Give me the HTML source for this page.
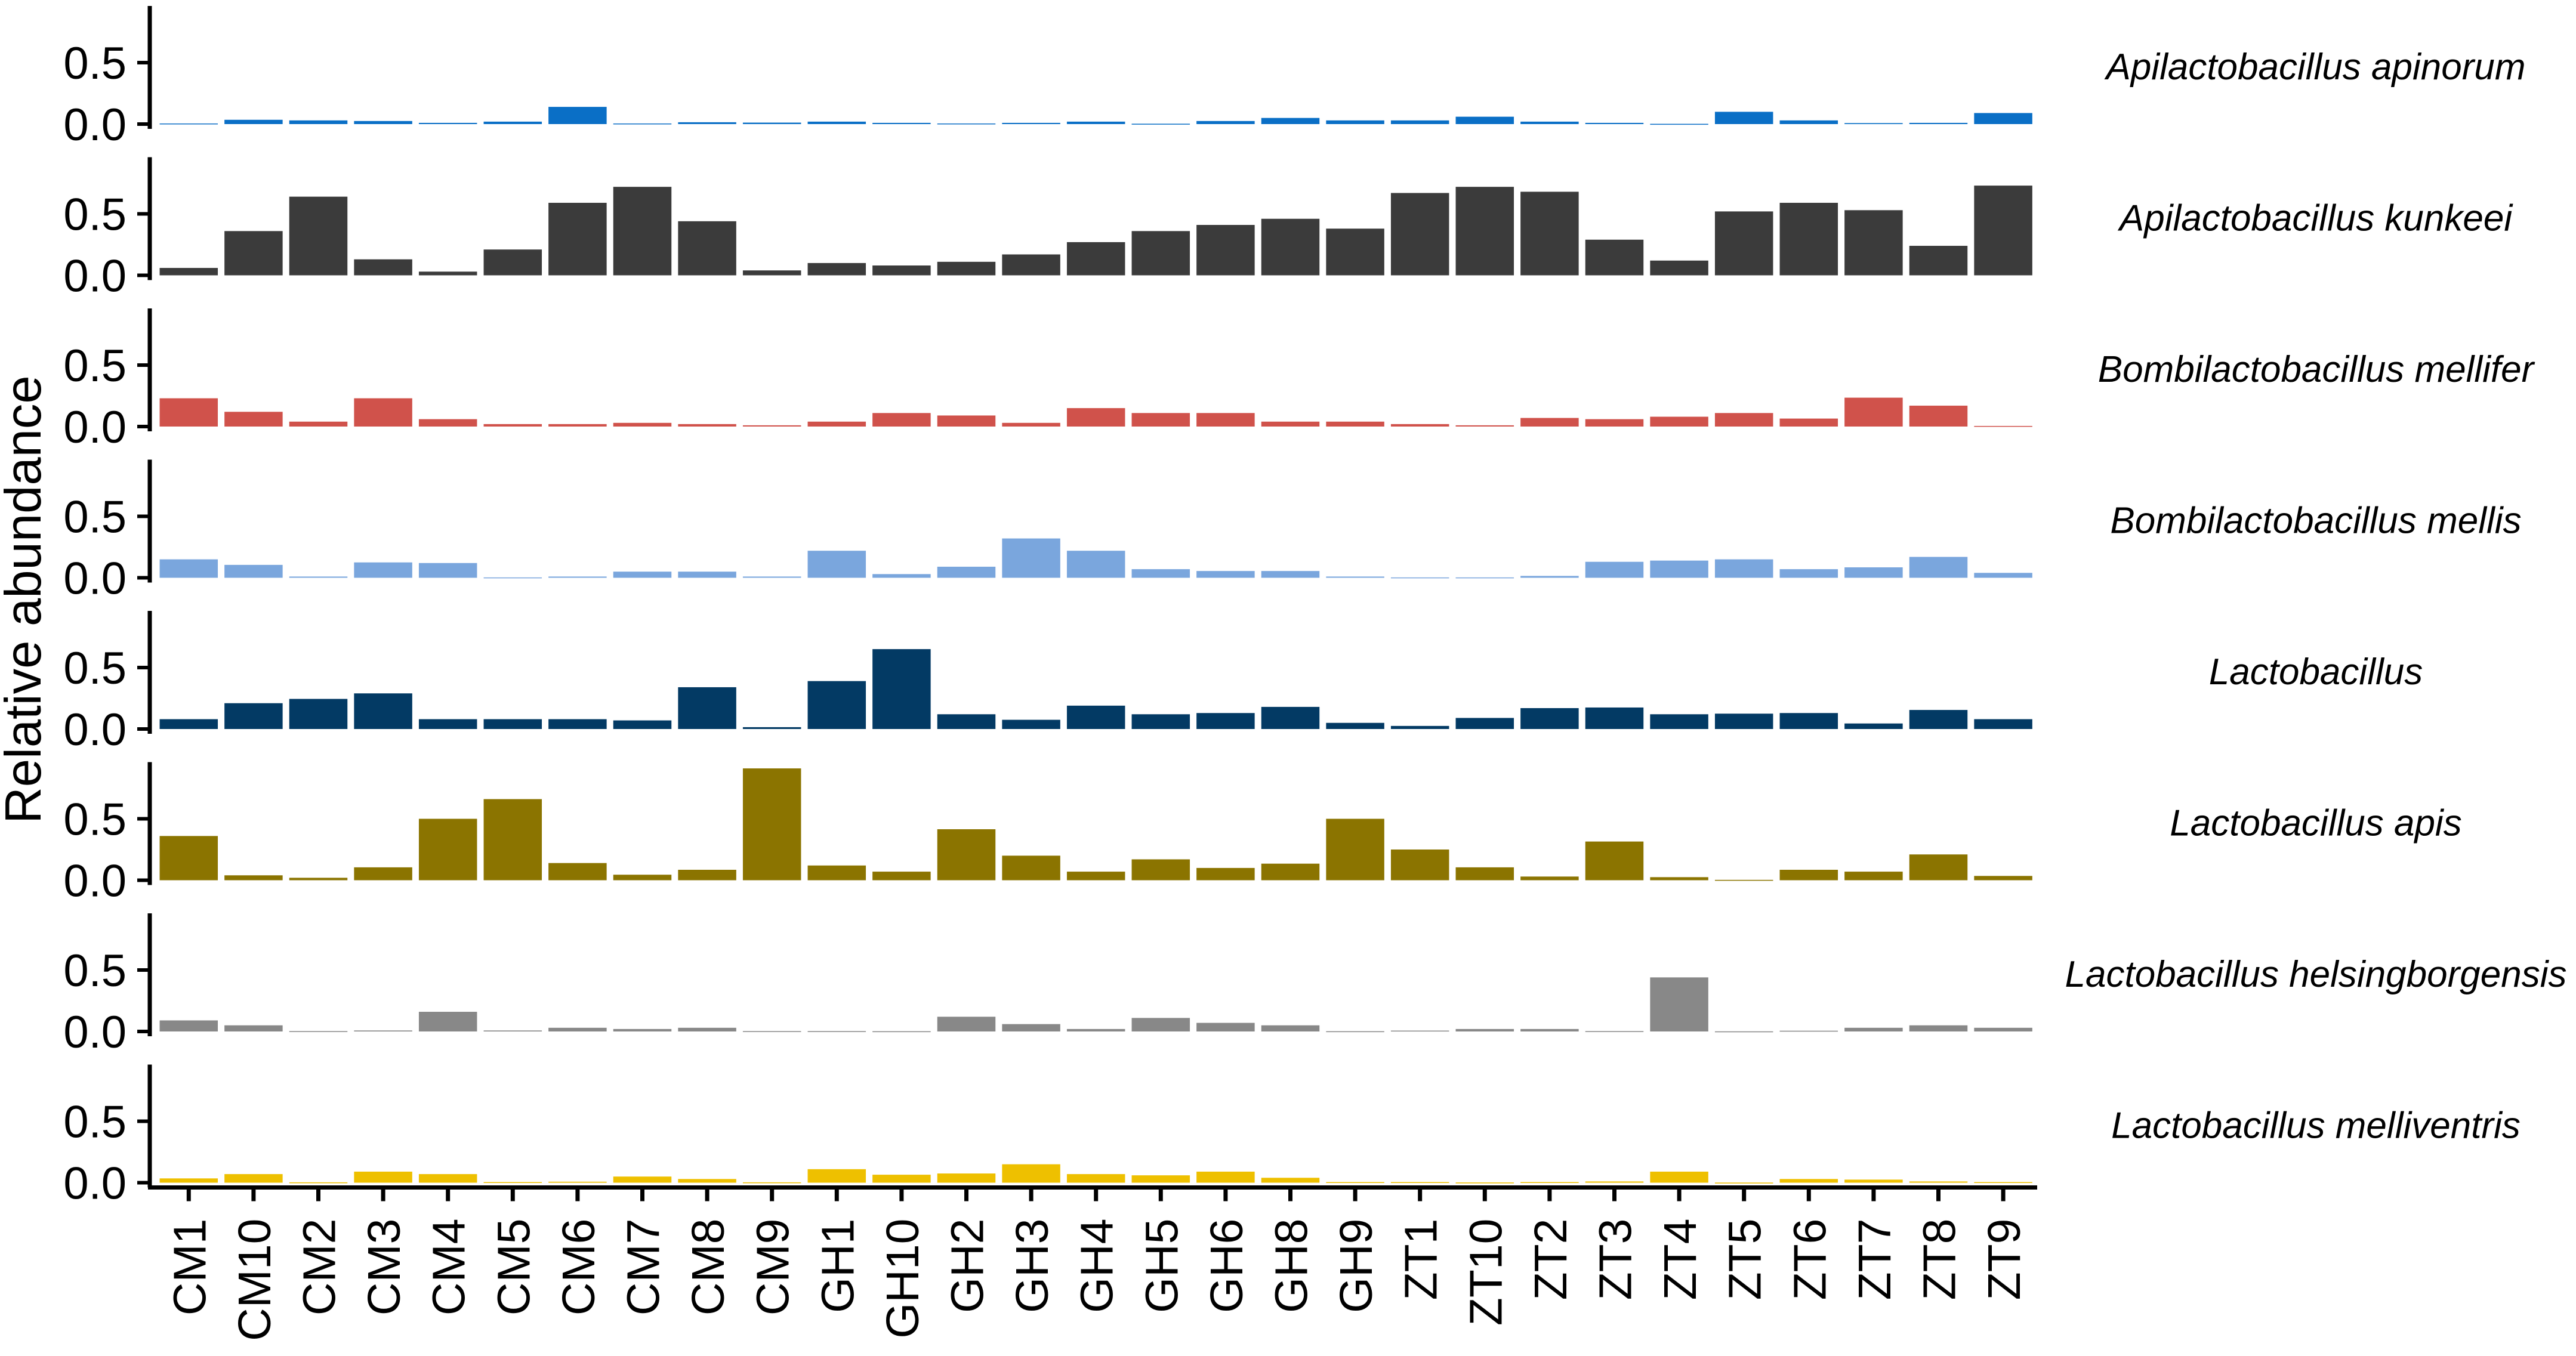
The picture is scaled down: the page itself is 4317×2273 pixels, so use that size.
<!DOCTYPE html>
<html><head><meta charset="utf-8">
<style>
html,body{margin:0;padding:0;background:#fff;}
svg{display:block;}
text{font-family:"Liberation Sans",Arial,sans-serif;fill:#000;}
</style></head>
<body>
<svg id="chart" width="4317" height="2273" viewBox="0 0 4317 2273" xmlns="http://www.w3.org/2000/svg">
<rect width="4317" height="2273" fill="#ffffff"/>
<text x="0" y="0" transform="translate(68,1005) rotate(-90)" text-anchor="middle" font-size="85">Relative abundance</text>
</svg>
<script>
const samples = ["CM1","CM10","CM2","CM3","CM4","CM5","CM6","CM7","CM8","CM9","GH1","GH10","GH2","GH3","GH4","GH5","GH6","GH8","GH9","ZT1","ZT10","ZT2","ZT3","ZT4","ZT5","ZT6","ZT7","ZT8","ZT9"];
const taxa = ["Apilactobacillus apinorum","Apilactobacillus kunkeei","Bombilactobacillus mellifer","Bombilactobacillus mellis","Lactobacillus","Lactobacillus apis","Lactobacillus helsingborgensis","Lactobacillus melliventris"];
const colors = ["#0a6fc6","#3b3b3b","#d0524b","#7aa6dd","#033a64","#8b7400","#888888","#eec000"];
const yTicks = [0, 0.5];
const yTickLabels = ["0.0","0.5"];
const apinorum = [0.005,0.035,0.03,0.025,0.01,0.02,0.14,0.005,0.015,0.012,0.02,0.01,0.005,0.01,0.02,0.003,0.025,0.05,0.03,0.03,0.06,0.02,0.01,0.002,0.1,0.03,0.008,0.01,0.09];
const kunkeei = [0.06,0.36,0.64,0.13,0.03,0.21,0.59,0.72,0.44,0.04,0.10,0.08,0.11,0.17,0.27,0.36,0.41,0.46,0.38,0.67,0.72,0.68,0.29,0.12,0.52,0.59,0.53,0.24,0.73];
const mellifer = [0.23,0.12,0.04,0.23,0.06,0.02,0.02,0.03,0.02,0.01,0.04,0.11,0.09,0.03,0.15,0.11,0.11,0.04,0.04,0.02,0.01,0.07,0.06,0.08,0.11,0.065,0.235,0.17,0.005];
const mellis = [0.15,0.105,0.01,0.125,0.12,0.003,0.01,0.05,0.05,0.01,0.22,0.03,0.09,0.32,0.22,0.07,0.055,0.055,0.01,0.003,0.003,0.015,0.13,0.14,0.15,0.07,0.085,0.17,0.04];
const lactobacillus = [0.08,0.21,0.245,0.29,0.08,0.08,0.08,0.07,0.34,0.015,0.39,0.65,0.12,0.075,0.19,0.12,0.13,0.18,0.05,0.025,0.09,0.17,0.175,0.12,0.125,0.13,0.045,0.155,0.08];
const apis = [0.36,0.04,0.02,0.105,0.50,0.66,0.14,0.045,0.085,0.91,0.12,0.07,0.415,0.2,0.07,0.17,0.10,0.135,0.50,0.25,0.105,0.03,0.315,0.025,0.003,0.085,0.07,0.21,0.035];
const helsingborgensis = [0.09,0.05,0.003,0.008,0.16,0.008,0.03,0.02,0.03,0.003,0.003,0.002,0.12,0.06,0.02,0.11,0.07,0.05,0.002,0.007,0.02,0.02,0.003,0.44,0.001,0.006,0.03,0.05,0.03];
const melliventris = [0.035,0.07,0.003,0.09,0.07,0.005,0.008,0.05,0.03,0.003,0.11,0.065,0.075,0.15,0.07,0.06,0.09,0.04,0.005,0.005,0.002,0.005,0.01,0.09,0.001,0.03,0.025,0.01,0.005];
const series = [apinorum,kunkeei,mellifer,mellis,lactobacillus,apis,helsingborgensis,melliventris];

const NS = "http://www.w3.org/2000/svg";
const svg = document.getElementById("chart");
const X0 = 262, STEP = 108.6, BARW = 97.5, AXISX = 251;
const ZERO0 = 208, PSTEP = 253.5, UNIT = 206;
function xBand(i){ return X0 + i*STEP + (STEP-BARW)/2; }
function xCenter(i){ return X0 + i*STEP + STEP/2; }
function yScale(p, v){ return ZERO0 + p*PSTEP - v*UNIT; }
function mk(tag, attrs){ const e=document.createElementNS(NS,tag); for(const k in attrs) e.setAttribute(k, attrs[k]); svg.appendChild(e); return e; }

for (let p=0; p<taxa.length; p++){
  const zero = yScale(p,0);
  for (let i=0; i<samples.length; i++){
    const v = series[p][i];
    const y = yScale(p, v);
    const r = mk("rect",{x:xBand(i), y:y, width:BARW, height:Math.max(zero-y,1.5), fill:colors[p]});
    
    
  }
  const ax = mk("line",{x1:AXISX, y1:zero-198, x2:AXISX, y2:zero+8, stroke:"#000","stroke-width":7});
  
  
  for (let t=0; t<yTicks.length; t++){
    const ty = yScale(p, yTicks[t]);
    const tk = mk("line",{x1:230, y1:ty, x2:AXISX, y2:ty, stroke:"#000","stroke-width":6});
    
    
    const tl = mk("text",{x:212, y:ty+27, "text-anchor":"end", "font-size":76});
    tl.textContent = yTickLabels[t];
    
    
  }
  const sl = mk("text",{x:3881, y:(zero-198+zero)/2+24, "text-anchor":"middle", "font-size":62, "font-style":"italic", fill:"#1a1a1a"});
  sl.textContent = taxa[p];
  
  
}
const lastZero = yScale(taxa.length-1, 0);
const xa = mk("line",{x1:AXISX-3, y1:lastZero+8, x2:3414, y2:lastZero+8, stroke:"#000","stroke-width":7});


for (let i=0; i<samples.length; i++){
  const cx = xCenter(i);
  const tk = mk("line",{x1:cx, y1:lastZero+8, x2:cx, y2:lastZero+31, stroke:"#000","stroke-width":7});
  
  
  const tl = mk("text",{x:0, y:0, "text-anchor":"end", "font-size":77, transform:"translate("+(cx+28)+","+(lastZero+60)+") rotate(-90)"});
  tl.textContent = samples[i];
  
  
}
</script>
</body></html>
